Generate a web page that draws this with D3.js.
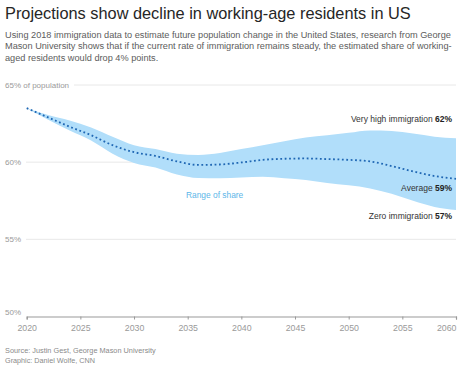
<!DOCTYPE html>
<html><head><meta charset="utf-8">
<script src="https://cdn.jsdelivr.net/npm/d3@7"></script>
<style>
body{margin:0;background:#fff;}
svg{display:block;font-family:"Liberation Sans",Arial,sans-serif;}
</style></head>
<body>
<svg id="c" width="460" height="368"></svg>
<script>
const years = [2020,2022,2024,2026,2028,2030,2032,2034,2036,2038,2040,2042,2044,2046,2048,2050,2052,2054,2056,2058,2060];
const veryHigh = [63.5,63.05,62.7,62.25,61.65,61.1,60.85,60.55,60.47,60.6,60.85,61.1,61.35,61.6,61.75,61.9,62.05,62.02,61.85,61.65,61.55];
const average = [63.5,62.9,62.3,61.75,61.1,60.65,60.4,60.05,59.82,59.85,59.98,60.15,60.22,60.24,60.2,60.15,60.05,59.75,59.4,59.1,58.92];
const zeroImm = [63.5,62.75,62.05,61.4,60.55,59.95,59.65,59.2,58.97,58.95,59.0,59.05,58.95,58.85,58.65,58.5,58.3,57.95,57.5,57.1,56.9];
const xTicks = [2020,2025,2030,2035,2040,2045,2050,2055,2060];
const yTicks = [50,55,60,65];
const yTickLabels = ["50%","55%","60%","65% of population"];

const title = "Projections show decline in working-age residents in US";
const subtitle = ["Using 2018 immigration data to estimate future population change in the United States, research from George",
  "Mason University shows that if the current rate of immigration remains steady, the estimated share of working-",
  "aged residents would drop 4% points."];
const footer = ["Source: Justin Gest, George Mason University","Graphic: Daniel Wolfe, CNN"];

const svg = d3.select("#c");
const x = d3.scaleLinear().domain([2020,2060]).range([26.7,456]);
const y = d3.scaleLinear().domain([50,65]).range([316.5,85]);

function fit(sel, w, fs){
  const cur = sel.node().getComputedTextLength();
  if (cur > w) sel.attr("font-size", fs * w / cur);
  return sel;
}

fit(svg.append("text").attr("x",5).attr("y",19).attr("font-size",18.6).attr("fill","#262626").text(title), 406, 18.6);
const subW = [448, 446, 155];
const subFs = 9.9;
let minFs = subFs;
const subs = subtitle.map((s,i)=>{
  const t = svg.append("text").attr("x",5).attr("y",38+i*11.4).attr("font-size",subFs).attr("fill","#5c5c5c").text(s);
  const cur = t.node().getComputedTextLength();
  minFs = Math.min(minFs, subFs*subW[i]/cur);
  return t;
});
subs.forEach(t=>t.attr("font-size",minFs));

// gridlines
yTicks.forEach((t,i)=>{
  if(t===50) return;
  svg.append("line").attr("x1", t===65?74:26).attr("x2",456).attr("y1",y(t)).attr("y2",y(t))
    .attr("stroke","#e8e8e8").attr("stroke-width",1);
});
yTicks.forEach((t,i)=>{
  svg.append("text").attr("x",5).attr("y",t===50?y(t)-4:y(t)).attr("dy","0.35em")
    .attr("font-size",8).attr("fill","#9a9a9a").text(yTickLabels[i]);
});

const data = years.map((yr,i)=>({yr,hi:veryHigh[i],avg:average[i],lo:zeroImm[i]}));
const area = d3.area().x(d=>x(d.yr)).y0(d=>y(d.lo)).y1(d=>y(d.hi)).curve(d3.curveMonotoneX);
svg.append("path").datum(data).attr("d",area).attr("fill","#b1defa");
const line = d3.line().x(d=>x(d.yr)).y(d=>y(d.avg)).curve(d3.curveMonotoneX);
svg.append("path").datum(data).attr("d",line).attr("fill","none").attr("stroke","#1f67b4")
  .attr("stroke-width",1.8).attr("stroke-dasharray","1.8,2.6");

// x axis
const ax = svg.append("g").attr("transform",`translate(0,${y(50)})`)
  .call(d3.axisBottom(x).tickValues(xTicks).tickFormat(d3.format("d")).tickSize(3).tickPadding(5));
ax.select(".domain").attr("stroke","#999").attr("stroke-width",1.2);
ax.selectAll(".tick line").attr("stroke","#999");
ax.selectAll(".tick text").attr("font-size",8.8).attr("fill","#9a9a9a").attr("font-family","Liberation Sans, Arial, sans-serif")
  .attr("text-anchor", d => d===2060 ? "end" : "middle");

// annotations
function ann(label,val,yy){
  const t = svg.append("text").attr("x",452).attr("y",yy).attr("dy","0.35em").attr("text-anchor","end")
    .attr("font-size",8.5).attr("fill","#333");
  t.append("tspan").text(label+" ");
  t.append("tspan").attr("font-weight","bold").attr("fill","#222").text(val);
}
ann("Very high immigration","62%",119.5);
ann("Average","59%",188.5);
ann("Zero immigration","57%",216.5);
svg.append("text").attr("x",186).attr("y",195).attr("dy","0.35em").attr("font-size",8.4)
  .attr("fill","#5cb6e8").text("Range of share");

footer.forEach((f,i)=>fit(svg.append("text").attr("x",5).attr("y",350+i*10.5).attr("dy","0.35em")
  .attr("font-size",7.8).attr("fill","#8a8a8a").text(f), i===0?151:90, 7.8));
</script>
</body></html>
